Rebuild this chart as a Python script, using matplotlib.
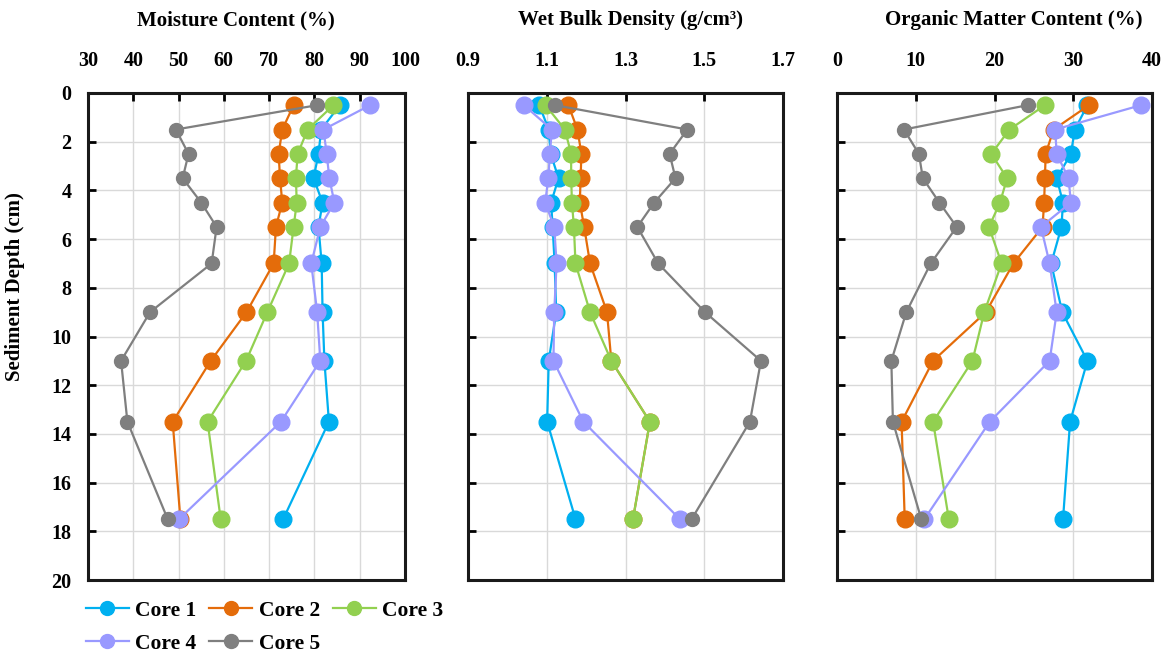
import matplotlib
matplotlib.use("Agg")
import matplotlib.pyplot as plt
from matplotlib.lines import Line2D

plt.rcParams["font.family"] = ["Liberation Serif", "DejaVu Serif"]
plt.rcParams["font.weight"] = "bold"

depth = [0.5, 1.5, 2.5, 3.5, 4.5, 5.5, 7, 9, 11, 13.5, 17.5]
cores = ["Core 1", "Core 2", "Core 3", "Core 4", "Core 5"]
colors = ["#00B0F0", "#E46C0A", "#92D050", "#9999FF", "#7F7F7F"]

moisture = [
    [85.6, 81.5, 80.9, 79.8, 81.8, 80.9, 81.6, 81.8, 82.2, 83.2, 73.1],
    [75.4, 72.9, 72.1, 72.4, 72.9, 71.5, 71.0, 65.0, 57.1, 48.7, 50.4],
    [84.2, 78.5, 76.3, 75.9, 76.1, 75.4, 74.4, 69.6, 64.9, 56.4, 59.3],
    [92.3, 82.0, 82.7, 83.3, 84.4, 81.3, 79.3, 80.6, 81.3, 72.6, 50.1],
    [80.6, 49.4, 52.2, 50.9, 55.0, 58.4, 57.3, 43.7, 37.3, 38.7, 47.6],
]
density = [
    [1.081, 1.105, 1.110, 1.130, 1.111, 1.115, 1.120, 1.124, 1.105, 1.101, 1.173],
    [1.155, 1.178, 1.188, 1.186, 1.184, 1.195, 1.210, 1.253, 1.264, 1.362, 1.319],
    [1.097, 1.146, 1.162, 1.162, 1.164, 1.169, 1.173, 1.210, 1.264, 1.362, 1.319],
    [1.042, 1.113, 1.108, 1.104, 1.096, 1.119, 1.125, 1.119, 1.117, 1.193, 1.438],
    [1.121, 1.457, 1.412, 1.427, 1.373, 1.330, 1.383, 1.502, 1.644, 1.616, 1.468],
]
organic = [
    [31.8, 30.2, 29.7, 27.9, 28.7, 28.5, 27.2, 28.6, 31.8, 29.6, 28.7],
    [32.0, 27.5, 26.5, 26.4, 26.3, 26.1, 22.4, 18.9, 12.2, 8.2, 8.6],
    [26.4, 21.9, 19.6, 21.6, 20.7, 19.3, 20.9, 18.7, 17.2, 12.2, 14.2],
    [38.6, 27.7, 27.9, 29.4, 29.7, 25.9, 27.0, 27.9, 27.0, 19.4, 11.1],
    [24.2, 8.5, 10.4, 10.9, 13.0, 15.2, 11.9, 8.8, 6.9, 7.1, 10.7],
]

titles = ["Moisture Content (%)", "Wet Bulk Density (g/cm³)", "Organic Matter Content (%)"]
xlims = [(30, 100), (0.9, 1.7), (0, 40)]
xticks = [list(range(30, 101, 10)), [0.9, 1.1, 1.3, 1.5, 1.7], [0, 10, 20, 30, 40]]
xticklabels = [
    ["30", "40", "50", "60", "70", "80", "90", "100"],
    ["0.9", "1.1", "1.3", "1.5", "1.7"],
    ["0", "10", "20", "30", "40"],
]
datasets = [moisture, density, organic]

# layout in pixels
ax_left = [88, 468, 837]
ax_width = [317, 315, 315]
title_x = [236, 630, 1014]

W, H = 1169, 656
fig = plt.figure(figsize=(W / 100, H / 100), dpi=100)

for i, data in enumerate(datasets):
    ax = fig.add_axes([ax_left[i] / W, 1 - 580 / H, ax_width[i] / W, 487 / H])
    for k, vals in enumerate(data):
        ms = 10 if k == 4 else 12
        ax.plot(vals, depth, color=colors[k], marker="o", markersize=ms,
                linewidth=1.6, label=cores[k])
    ax.set_xlim(*xlims[i])
    ax.set_ylim(20, 0)
    ax.set_xticks(xticks[i])
    ax.set_xticklabels(xticklabels[i])
    ax.set_yticks(range(0, 21, 2))
    ax.xaxis.tick_top()
    ax.tick_params(axis="both", direction="in", length=6, width=2, color="black",
                   labelsize=14.5)
    ax.tick_params(axis="x", pad=16)
    ax.tick_params(axis="y", pad=12)
    if i > 0:
        ax.set_yticklabels([])
    ax.grid(True, color="#D9D9D9", linewidth=1)
    ax.set_axisbelow(True)
    for sp in ax.spines.values():
        sp.set_linewidth(2.2)
        sp.set_color("#1a1a1a")
    fig.text(title_x[i] / W, 1 - 20 / H, titles[i], ha="center", va="center",
             fontsize=15, fontweight="bold")

fig.text(15 / W, 1 - 287 / H, "Sediment Depth (cm)", rotation=90, ha="center",
         va="center", fontsize=15, fontweight="bold")

handles = [Line2D([0], [0], color=c, marker="o", markersize=10, linewidth=1.6)
           for c in colors]
order = [0, 3, 1, 4, 2]
fig.legend([handles[j] for j in order], [cores[j] for j in order], ncol=3,
           loc="upper left", bbox_to_anchor=(77 / W, 1 - 592 / H), frameon=False,
           fontsize=15.5, handlelength=2.0, columnspacing=0.6, handletextpad=0.3,
           labelspacing=0.6, borderaxespad=0)

fig.savefig("out.png", dpi=100)
